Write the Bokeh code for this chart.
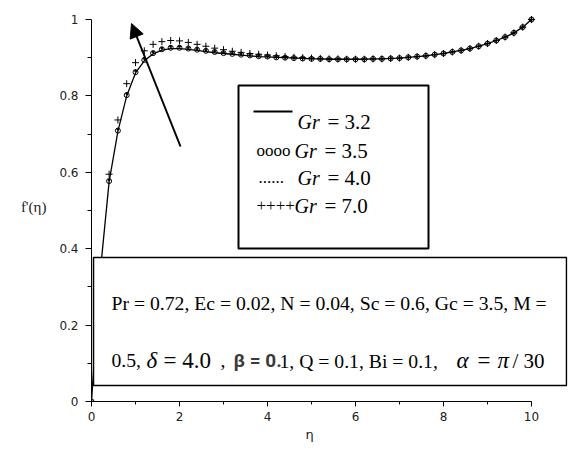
from bokeh.plotting import figure
from bokeh.models import (Range1d, FixedTicker, CustomJSTickFormatter, Label, Title,
                          BoxAnnotation, Arrow, NormalHead, ColumnDataSource)
from bokeh.embed import file_html
from bokeh.resources import INLINE

# ---------------- data ----------------
eta = [0.0, 0.2, 0.4, 0.6, 0.8, 1.0, 1.2, 1.4, 1.6, 1.8,
       2.0, 2.2, 2.4, 2.6, 2.8, 3.0, 3.2, 3.4, 3.6, 3.8,
       4.0, 4.2, 4.4, 4.6, 4.8, 5.0, 5.2, 5.4, 5.6, 5.8,
       6.0, 6.2, 6.4, 6.6, 6.8, 7.0, 7.2, 7.4, 7.6, 7.8,
       8.0, 8.2, 8.4, 8.6, 8.8, 9.0, 9.2, 9.4, 9.6, 9.8,
       10.0]

f_gr32 = [0.000, 0.340, 0.575, 0.707, 0.800, 0.860, 0.892, 0.910, 0.920, 0.924,
          0.924, 0.922, 0.919, 0.916, 0.913, 0.911, 0.909, 0.907, 0.905, 0.903,
          0.902, 0.901, 0.900, 0.899, 0.898, 0.897, 0.897, 0.896, 0.896, 0.896,
          0.896, 0.896, 0.897, 0.897, 0.898, 0.899, 0.901, 0.903, 0.905, 0.908,
          0.911, 0.915, 0.919, 0.924, 0.930, 0.937, 0.945, 0.954, 0.965, 0.980,
          1.000]

f_gr35 = [0.000, 0.341, 0.577, 0.709, 0.802, 0.862, 0.894, 0.912, 0.922, 0.926,
          0.926, 0.924, 0.921, 0.918, 0.915, 0.912, 0.910, 0.908, 0.906, 0.904,
          0.903, 0.901, 0.900, 0.899, 0.898, 0.897, 0.897, 0.896, 0.896, 0.896,
          0.896, 0.896, 0.897, 0.897, 0.898, 0.899, 0.901, 0.903, 0.905, 0.908,
          0.911, 0.915, 0.919, 0.924, 0.930, 0.937, 0.945, 0.954, 0.965, 0.980,
          1.000]

f_gr40 = [0.000, 0.343, 0.580, 0.713, 0.806, 0.866, 0.898, 0.915, 0.925, 0.929,
          0.929, 0.926, 0.923, 0.920, 0.917, 0.914, 0.911, 0.909, 0.907, 0.905,
          0.904, 0.902, 0.901, 0.900, 0.899, 0.898, 0.897, 0.896, 0.896, 0.896,
          0.896, 0.896, 0.897, 0.897, 0.898, 0.899, 0.901, 0.903, 0.905, 0.908,
          0.911, 0.915, 0.919, 0.924, 0.930, 0.937, 0.945, 0.954, 0.965, 0.980,
          1.000]

f_gr70 = [0.000, 0.360, 0.595, 0.737, 0.832, 0.887, 0.918, 0.935, 0.942, 0.945,
          0.944, 0.940, 0.935, 0.930, 0.925, 0.921, 0.917, 0.914, 0.911, 0.909,
          0.907, 0.905, 0.903, 0.901, 0.900, 0.899, 0.898, 0.897, 0.897, 0.896,
          0.896, 0.896, 0.897, 0.897, 0.898, 0.899, 0.901, 0.903, 0.905, 0.908,
          0.911, 0.915, 0.919, 0.924, 0.930, 0.937, 0.945, 0.954, 0.965, 0.980,
          1.000]

gr_labels = ["3.2", "3.5", "4.0", "7.0"]
gr_symbols = ["", "oooo", "......", "++++"]

x_ticks = [0, 2, 4, 6, 8, 10]
x_minor = [1, 3, 5, 7, 9]
y_ticks = [0, 0.2, 0.4, 0.6, 0.8, 1.0]
y_minor = [0.1, 0.3, 0.5, 0.7, 0.9]

x_title = "η"
y_title = "f'(η)"
params_line1 = "Pr = 0.72, Ec = 0.02, N = 0.04, Sc = 0.6, Gc = 3.5, M ="

# ---------------- layout helpers (reference pixel -> data) ----------------
def dx(px):
    return (px - 91) / 44.0

def dy(py):
    return (401 - py) / 382.0

SERIF = "Liberation Serif"
SANS = "DejaVu Sans"

src = ColumnDataSource(dict(eta=eta, f32=f_gr32, f35=f_gr35, f40=f_gr40, f70=f_gr70))

p = figure(width=575, height=450,
           x_range=Range1d(0, dx(567)), y_range=Range1d(0, dy(11)),
           output_backend="svg", toolbar_location=None,
           min_border_left=91, min_border_right=8,
           min_border_top=11, min_border_bottom=49)
p.outline_line_color = None
p.xgrid.visible = False
p.ygrid.visible = False
p.background_fill_color = "white"
p.border_fill_color = "white"

# axes
p.xaxis.bounds = (0, 10)
p.yaxis.bounds = (0, 1)
p.xaxis.ticker = FixedTicker(ticks=x_ticks, minor_ticks=x_minor)
p.yaxis.ticker = FixedTicker(ticks=y_ticks, minor_ticks=y_minor)
p.yaxis.formatter = CustomJSTickFormatter(code="return (Math.round(tick*10)/10).toString();")
for ax in (p.xaxis, p.yaxis):
    ax.axis_line_color = "black"
    ax.axis_line_width = 1
    ax.major_tick_line_color = "black"
    ax.minor_tick_line_color = "black"
    ax.major_tick_in = 0
    ax.minor_tick_in = 0
    ax.major_label_text_font = SANS
    ax.major_label_text_font_size = "12px"
    ax.major_label_text_color = "#222222"
p.xaxis.major_tick_out = 5
p.xaxis.minor_tick_out = 3
p.xaxis.major_label_standoff = 5
p.yaxis.major_tick_out = 6
p.yaxis.minor_tick_out = 4
p.yaxis.major_label_standoff = 7

# y axis title (horizontal)
p.yaxis.axis_label = y_title
p.yaxis.axis_label_orientation = "horizontal"
p.yaxis.axis_label_text_font = SERIF
p.yaxis.axis_label_text_font_size = "15px"
p.yaxis.axis_label_text_font_style = "normal"
p.yaxis.axis_label_text_color = "#222222"
p.yaxis.axis_label_standoff = 10

# x axis title, centred under the 0..10 axis
p.add_layout(Title(text=x_title, align="left", offset=214, text_font=SANS,
                   text_font_size="13px", text_font_style="normal",
                   text_color="#222222", standoff=3), "below")

# curves
p.line("eta", "f32", source=src, line_color="black", line_width=1.3)
p.scatter("eta", "f35", source=src, marker="circle", size=5,
          line_color="black", fill_color=None, line_width=1)
p.scatter("eta", "f40", source=src, marker="circle", size=2,
          line_color="black", fill_color="black")
p.scatter("eta", "f70", source=src, marker="cross", size=7,
          line_color="black", line_width=1)

# arrow
p.add_layout(Arrow(end=NormalHead(size=14, fill_color="black", line_color="black"),
                   x_start=dx(180), y_start=dy(146), x_end=dx(131), y_end=dy(23),
                   line_color="black", line_width=2))

# legend box
p.add_layout(BoxAnnotation(left=dx(238), right=dx(428), top=dy(85), bottom=dy(248),
                           fill_color="white", fill_alpha=1.0,
                           line_color="black", line_width=2, line_alpha=1.0))
# parameters box
p.add_layout(BoxAnnotation(left=dx(93), right=dx(566), top=dy(257), bottom=dy(385),
                           fill_color="white", fill_alpha=1.0,
                           line_color="black", line_width=1.5, line_alpha=1.0))

def lab(px, py, text, font=SERIF, size="18px", style="normal", color="black",
        align="left", baseline="alphabetic"):
    p.add_layout(Label(x=dx(px), y=dy(py), text=text, text_font=font,
                       text_font_size=size, text_font_style=style,
                       text_color=color, text_align=align, text_baseline=baseline))

# legend entries
baselines = [121, 150, 177, 205]
sym_x = [253, 256, 258, 256]
gr_x = [297, 294, 297, 294]
eq_x = [327, 324, 327, 324]
for i in range(4):
    bl = baselines[i]
    if i == 0:
        p.add_layout(Arrow(end=None, x_start=dx(253), y_start=dy(111),
                           x_end=dx(292), y_end=dy(111),
                           line_color="black", line_width=2))
    else:
        lab(sym_x[i], bl, gr_symbols[i], size="17px")
    lab(gr_x[i], bl, "Gr", size="20px", style="italic")
    lab(eq_x[i], bl, "= " + gr_labels[i], size="21px")

# parameter text
lab(111, 302, params_line1, size="19.7px")
lab(111, 360, "0.5,", size="19.7px")
lab(146, 360, "δ", size="23px", style="italic")
lab(163, 360, "= 4.0", size="23px")
lab(220, 360, ",", size="19.7px")
lab(233, 360, "β = 0.", font="Roboto", size="19px", style="bold", color="#3a3a3a")
lab(279, 360, "1, Q = 0.1, Bi = 0.1,", size="19.7px")
lab(456, 360, "α", size="23px", style="italic")
lab(477, 360, "=", size="23px")
lab(497, 360, "π", size="23px", style="italic")
lab(512, 360, "/ 30", size="21px")

open("out.html", "w").write(file_html(p, INLINE))
